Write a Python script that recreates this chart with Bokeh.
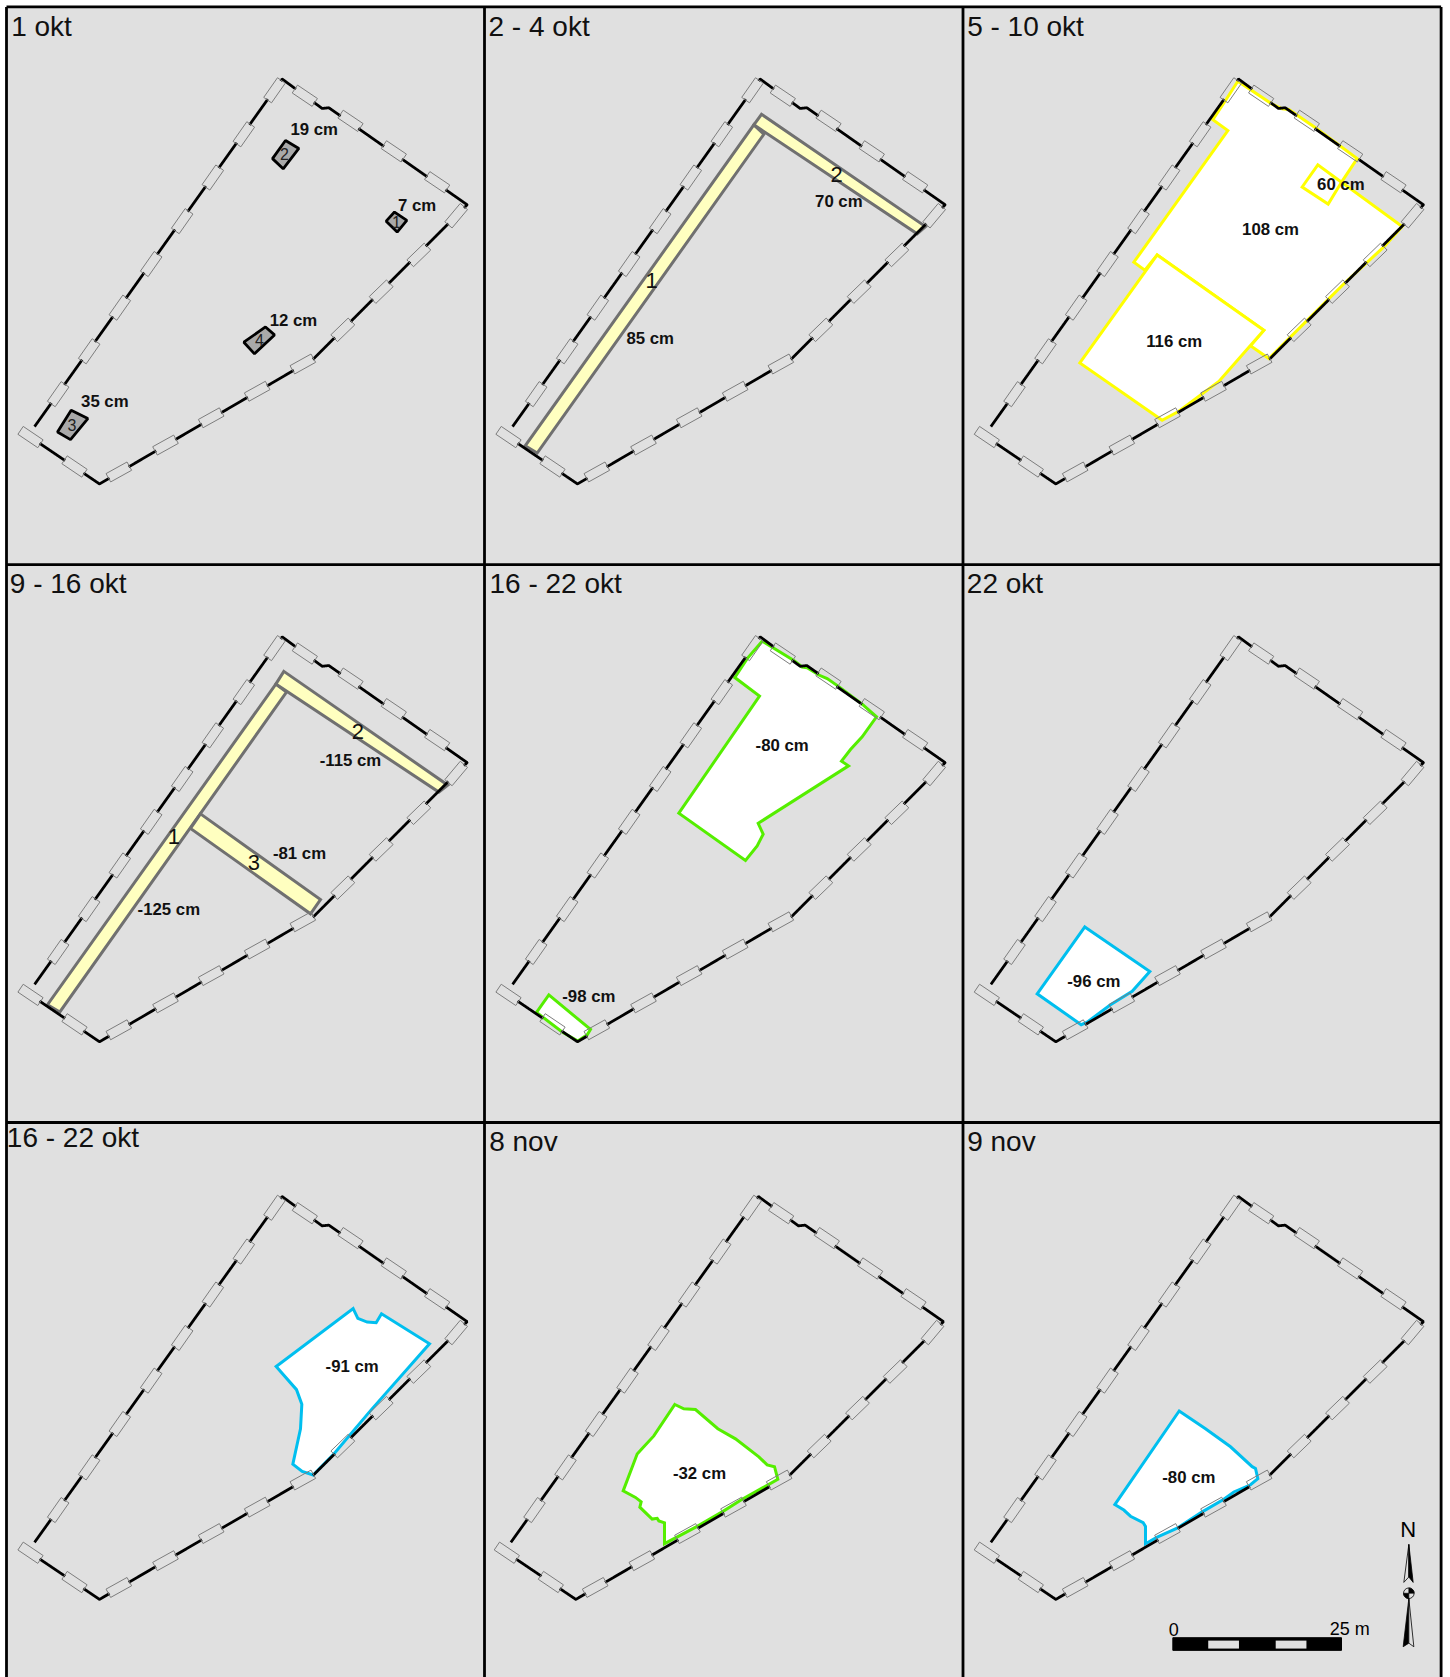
import numpy as np
from bokeh.plotting import figure
from bokeh.embed import file_html
from bokeh.resources import INLINE
from bokeh.core.properties import value

W, H = 1450, 1677
FONT = "Liberation Sans"

# Every shape coordinate below is in a panel's own map units (3 units per px across, 2.75 down)
panel_origin = [(0, 0), (480, 0), (960, 0), (0, 560), (480, 560), (960, 560), (0, 1110), (480, 1110), (960, 1110)]
panel_k = [.3635] * 6 + [.3616] * 3
outline_shift = [(0, 0), (-6, 0), (-11, 0), (0, -6), (-6, -6), (-11, -6), (0, 22), (-11, 22), (-11, 22)]

titles = ["1 okt", "2 - 4 okt", "5 - 10 okt", "9 - 16 okt", "16 - 22 okt", "22 okt", "16 - 22 okt", "8 nov", "9 nov"]
title_pos = [(32, 71), (24, 71), (20, 71), (28, 64), (27, 64), (19, 64), (19, 74), (26, 86), (20, 86)]

frame_x = [6.0, 484, 962.5, 1440.6]
frame_y = [6.4, 564.2, 1122]

outline_x = [100, 845, 965, 985, 1400, 940, 297, 80]
outline_y = [1175, 216, 297, 295, 562, 985, 1330, 1195]

gate_x = [822, 730, 637, 545, 452, 358, 266, 173, 913, 1050, 1180, 1310, 1367, 1255, 1142, 1027, 907, 770, 632, 495, 355, 222, 90]
gate_y = [247, 368, 487, 607, 725, 845, 965, 1083, 262, 331, 415, 500, 592, 700, 801, 906, 1000, 1075, 1148, 1223, 1297, 1282, 1201]
gate_angle = [55, 55, 55, 55, 55, 55, 55, 55, -34, -34, -34, -34, 50, 44, 44, 44, 29, 29, 29, 29, 29, -34, -34]

spot_x = [[855, 895, 848, 816], [1182, 1219, 1190, 1157], [795, 822, 762, 730], [212, 262, 210, 171]]
spot_y = [[385, 407, 463, 435], [582, 605, 637, 607], [898, 920, 972, 940], [1127, 1150, 1208, 1187]]

strip_panel = [1, 1, 3, 3, 3]
strip_x = [[820, 850, 170, 134], [843, 1335, 1310, 820],
           [826, 858, 178, 141], [850, 1342, 1315, 826], [600, 960, 930, 570]]
strip_y = [[342, 368, 1245, 1225], [313, 622, 642, 342],
           [340, 362, 1242, 1222], [305, 618, 637, 340], [697, 933, 972, 737]]

zone_panel = [2, 2, 2, 4, 4, 5, 6, 7, 8]
zone_color = ["#ffff00", "#ffff00", "#ffff00", "#55ee00", "#55ee00", "#00bfef", "#00bfef", "#55ee00", "#00bfef"]
zone_x = [
    [832, 795, 757, 802, 520, 553, 590, 910, 870, 925, 1040, 1100, 1155, 1270, 1325, 1143, 1190, 1065, 985, 965, 935],
    [590, 910, 775, 655, 605, 358],
    [1072, 1025, 1103, 1143],
    [845, 800, 763, 837, 595, 795, 830, 848, 833, 1104, 1083, 1110, 1145, 1188, 1145, 1075, 1040, 1015, 980, 965, 940],
    [205, 330, 320, 292, 245, 168],
    [373, 568, 515, 450, 380, 362, 230],
    [1058, 1072, 1100, 1127, 1143, 1287, 1110, 1000, 938, 905, 877, 900, 904, 888, 827],
    [583, 610, 645, 712, 765, 835, 860, 882, 892, 785, 725, 650, 552, 552, 535, 530, 515, 478, 482, 465, 428, 470, 485, 520],
    [656, 735, 810, 875, 885, 892, 870, 820, 790, 725, 650, 590, 555, 555, 548, 510, 490, 463],
]
zone_y = [
    [222, 275, 328, 358, 720, 742, 700, 907, 950, 985, 880, 825, 775, 678, 622, 500, 435, 350, 300, 298, 285],
    [700, 907, 1048, 1130, 1155, 997],
    [452, 513, 560, 500],
    [222, 270, 322, 373, 695, 825, 785, 753, 723, 565, 552, 520, 485, 430, 395, 347, 325, 315, 295, 293, 275],
    [1195, 1290, 1305, 1322, 1297, 1243],
    [1008, 1131, 1185, 1222, 1270, 1277, 1192],
    [548, 575, 585, 587, 562, 645, 830, 950, 1008, 998, 978, 880, 812, 772, 708],
    [813, 825, 827, 880, 908, 958, 980, 985, 1020, 1075, 1110, 1150, 1198, 1140, 1135, 1128, 1130, 1097, 1082, 1070, 1052, 950, 935, 900],
    [831, 880, 930, 985, 990, 1018, 1035, 1055, 1075, 1110, 1155, 1180, 1198, 1150, 1140, 1122, 1105, 1090],
]

depth_panel = [0, 0, 0, 0, 1, 1, 2, 2, 2, 3, 3, 3, 4, 4, 5, 6, 7, 8]
depth_text = ["19 cm", "7 cm", "12 cm", "35 cm", "70 cm", "85 cm", "60 cm", "108 cm", "116 cm",
              "-115 cm", "-81 cm", "-125 cm", "-80 cm", "-98 cm", "-96 cm", "-91 cm", "-32 cm", "-80 cm"]
depth_x = [941, 1250, 879, 313, 1075, 509, 1141, 930, 641, 1050, 897, 505, 905, 325, 400, 1055, 657, 685]
depth_y = [354, 565, 879, 1102, 553, 931, 505, 631, 939, 549, 805, 959, 510, 1200, 1157, 707, 1003, 1015]

spot_no_text = ["2", "1", "4", "3"]
spot_no_x = [852, 1188, 777, 214]
spot_no_y = [423, 610, 935, 1167]
strip_no_panel = [1, 1, 3, 3, 3]
strip_no_text = ["1", "2", "1", "2", "3"]
strip_no_x = [513, 1068, 520, 1072, 760]
strip_no_y = [770, 478, 760, 470, 832]

scale_m = [0, 5, 10, 15, 20, 25]
scale_left, scale_per_m = 637, 20.24
arrow_parts = [
    ([1345, 1330, 1345], [1200, 1305, 1290], "#e0e0e0"),
    ([1345, 1358, 1345], [1200, 1305, 1290], "#000000"),
    ([1345, 1328, 1345], [1350, 1483, 1473], "#000000"),
    ([1345, 1360, 1345], [1350, 1483, 1473], "#e0e0e0"),
]
GATE_L, GATE_W = 24, 9.5


def place(panel, xs, ys, shift=(0, 0)):
    ox, oy = panel_origin[panel]
    k = panel_k[panel]
    return ([ox + (x + shift[0]) / 3 for x in xs], [oy + (y + shift[1]) * k for y in ys])


def broken_outline(panel):
    """The outline as a line with a gap at every gate."""
    xs, ys = map(np.array, place(panel, outline_x, outline_y, outline_shift[panel]))
    gx, gy = map(np.array, place(panel, gate_x, gate_y, outline_shift[panel]))
    seg = np.hypot(np.diff(xs), np.diff(ys))
    s = np.concatenate([[0], np.cumsum(seg)])
    t = np.arange(0, s[-1] + .25, .25)
    px, py = np.interp(t, s, xs), np.interp(t, s, ys)
    d = np.hypot(px[:, None] - gx[None, :], py[:, None] - gy[None, :]).min(axis=1)
    px[d < GATE_L / 2 - 1] = np.nan
    py[d < GATE_L / 2 - 1] = np.nan
    return px.tolist(), py.tolist()


p = figure(width=W, height=H, x_range=(0, W), y_range=(H, 0), output_backend="svg",
           toolbar_location=None, min_border=0, margin=0,
           background_fill_color="white", border_fill_color="white")
p.axis.visible = False
p.grid.visible = False
p.outline_line_color = None

p.quad(left=frame_x[0], right=frame_x[-1], top=frame_y[0], bottom=H, fill_color="#e0e0e0", line_color=None)

for pi, xs, ys in zip(strip_panel, strip_x, strip_y):
    a, b = place(pi, xs, ys)
    p.patch(a, b, fill_color="#ffffc0", line_color="#707070", line_width=3, line_join="miter")

for i, (xs, ys) in enumerate(zip(spot_x, spot_y)):
    a, b = place(0, xs, ys)
    p.patch(a, b, fill_color="#a9a9a9", line_color="black", line_width=2.8)

for pi, col, xs, ys in zip(zone_panel, zone_color, zone_x, zone_y):
    a, b = place(pi, xs, ys)
    p.patch(a, b, fill_color="white", line_color=col, line_width=3, line_join="miter")

rx, ry, ra = [], [], []
for i in range(9):
    xs, ys = broken_outline(i)
    p.line(xs, ys, line_color="black", line_width=2.8)
    gx, gy = place(i, gate_x, gate_y, outline_shift[i])
    rx += gx
    ry += gy
    ra += gate_angle
p.rect(rx, ry, width=GATE_L, height=GATE_W, angle=ra, angle_units="deg", fill_color=None, line_color="#7d7d7d", line_width=1)

# Panel frame
for x in frame_x:
    p.segment(x, frame_y[0], x, H, line_color="black", line_width=2.8)
for y in frame_y:
    p.segment(frame_x[0], y, frame_x[-1], y, line_color="black", line_width=2.8)

# Scale bar
bx = [scale_left + scale_per_m * m for m in scale_m]
a, b = place(8, bx, [1458, 1493])
p.quad(left=a[0], right=a[-1], top=b[0], bottom=b[1], fill_color="black", line_color="black", line_width=1)
for j in (1, 3):
    a2, b2 = place(8, [bx[j] + 5, bx[j + 1] - 4], [1466, 1488])
    p.quad(left=a2[0], right=a2[1], top=b2[0], bottom=b2[1], fill_color="#e0e0e0", line_color=None)
a, b = place(8, [640, 1168], [1435, 1435])
p.text(a, b, text=["0", "25 m"], text_align="center", text_baseline="middle",
       text_font=value(FONT), text_font_size="18px", text_color="black")

# North arrow
for xs, ys, col in arrow_parts:
    a, b = place(8, xs, ys)
    p.patch(a, b, fill_color=col, line_color="black", line_width=0.8)
a, b = place(8, [1345], [1335])
p.wedge(a, b, radius=5.3, start_angle=[0], end_angle=[1.5708], fill_color="black", line_color="black", line_width=0.6)
p.wedge(a, b, radius=5.3, start_angle=[3.1416], end_angle=[4.7124], fill_color="black", line_color="black", line_width=0.6)
p.circle(a, b, radius=5.3, fill_color=None, line_color="black", line_width=0.8)
a, b = place(8, [1343], [1160])
p.text(a, b, text=["N"], text_align="center", text_baseline="middle",
       text_font=value(FONT), text_font_size="22px", text_color="black")

# Titles
for i, t in enumerate(titles):
    a, b = place(i, [title_pos[i][0]], [title_pos[i][1]])
    p.text(a, b, text=[t], text_align="left", text_baseline="middle",
           text_font=value(FONT), text_font_size="28px", text_color="#111111")

# Depth labels
for pi, t, x, y in zip(depth_panel, depth_text, depth_x, depth_y):
    a, b = place(pi, [x], [y])
    p.text(a, b, text=[t], text_align="center", text_baseline="middle", text_font=value(FONT),
           text_font_style="bold", text_font_size="16.8px", text_color="#111111")

# Numbers
a, b = place(0, spot_no_x, spot_no_y)
p.text(a, b, text=spot_no_text, text_align="center", text_baseline="middle", text_font=value(FONT),
       text_font_size="16px", text_color="#222222")
for pi, t, x, y in zip(strip_no_panel, strip_no_text, strip_no_x, strip_no_y):
    a, b = place(pi, [x], [y])
    p.text(a, b, text=[t], text_align="center", text_baseline="middle", text_font=value(FONT),
           text_font_size="22px", text_color="#111111")

open("out.html", "w").write(file_html(p, INLINE))
